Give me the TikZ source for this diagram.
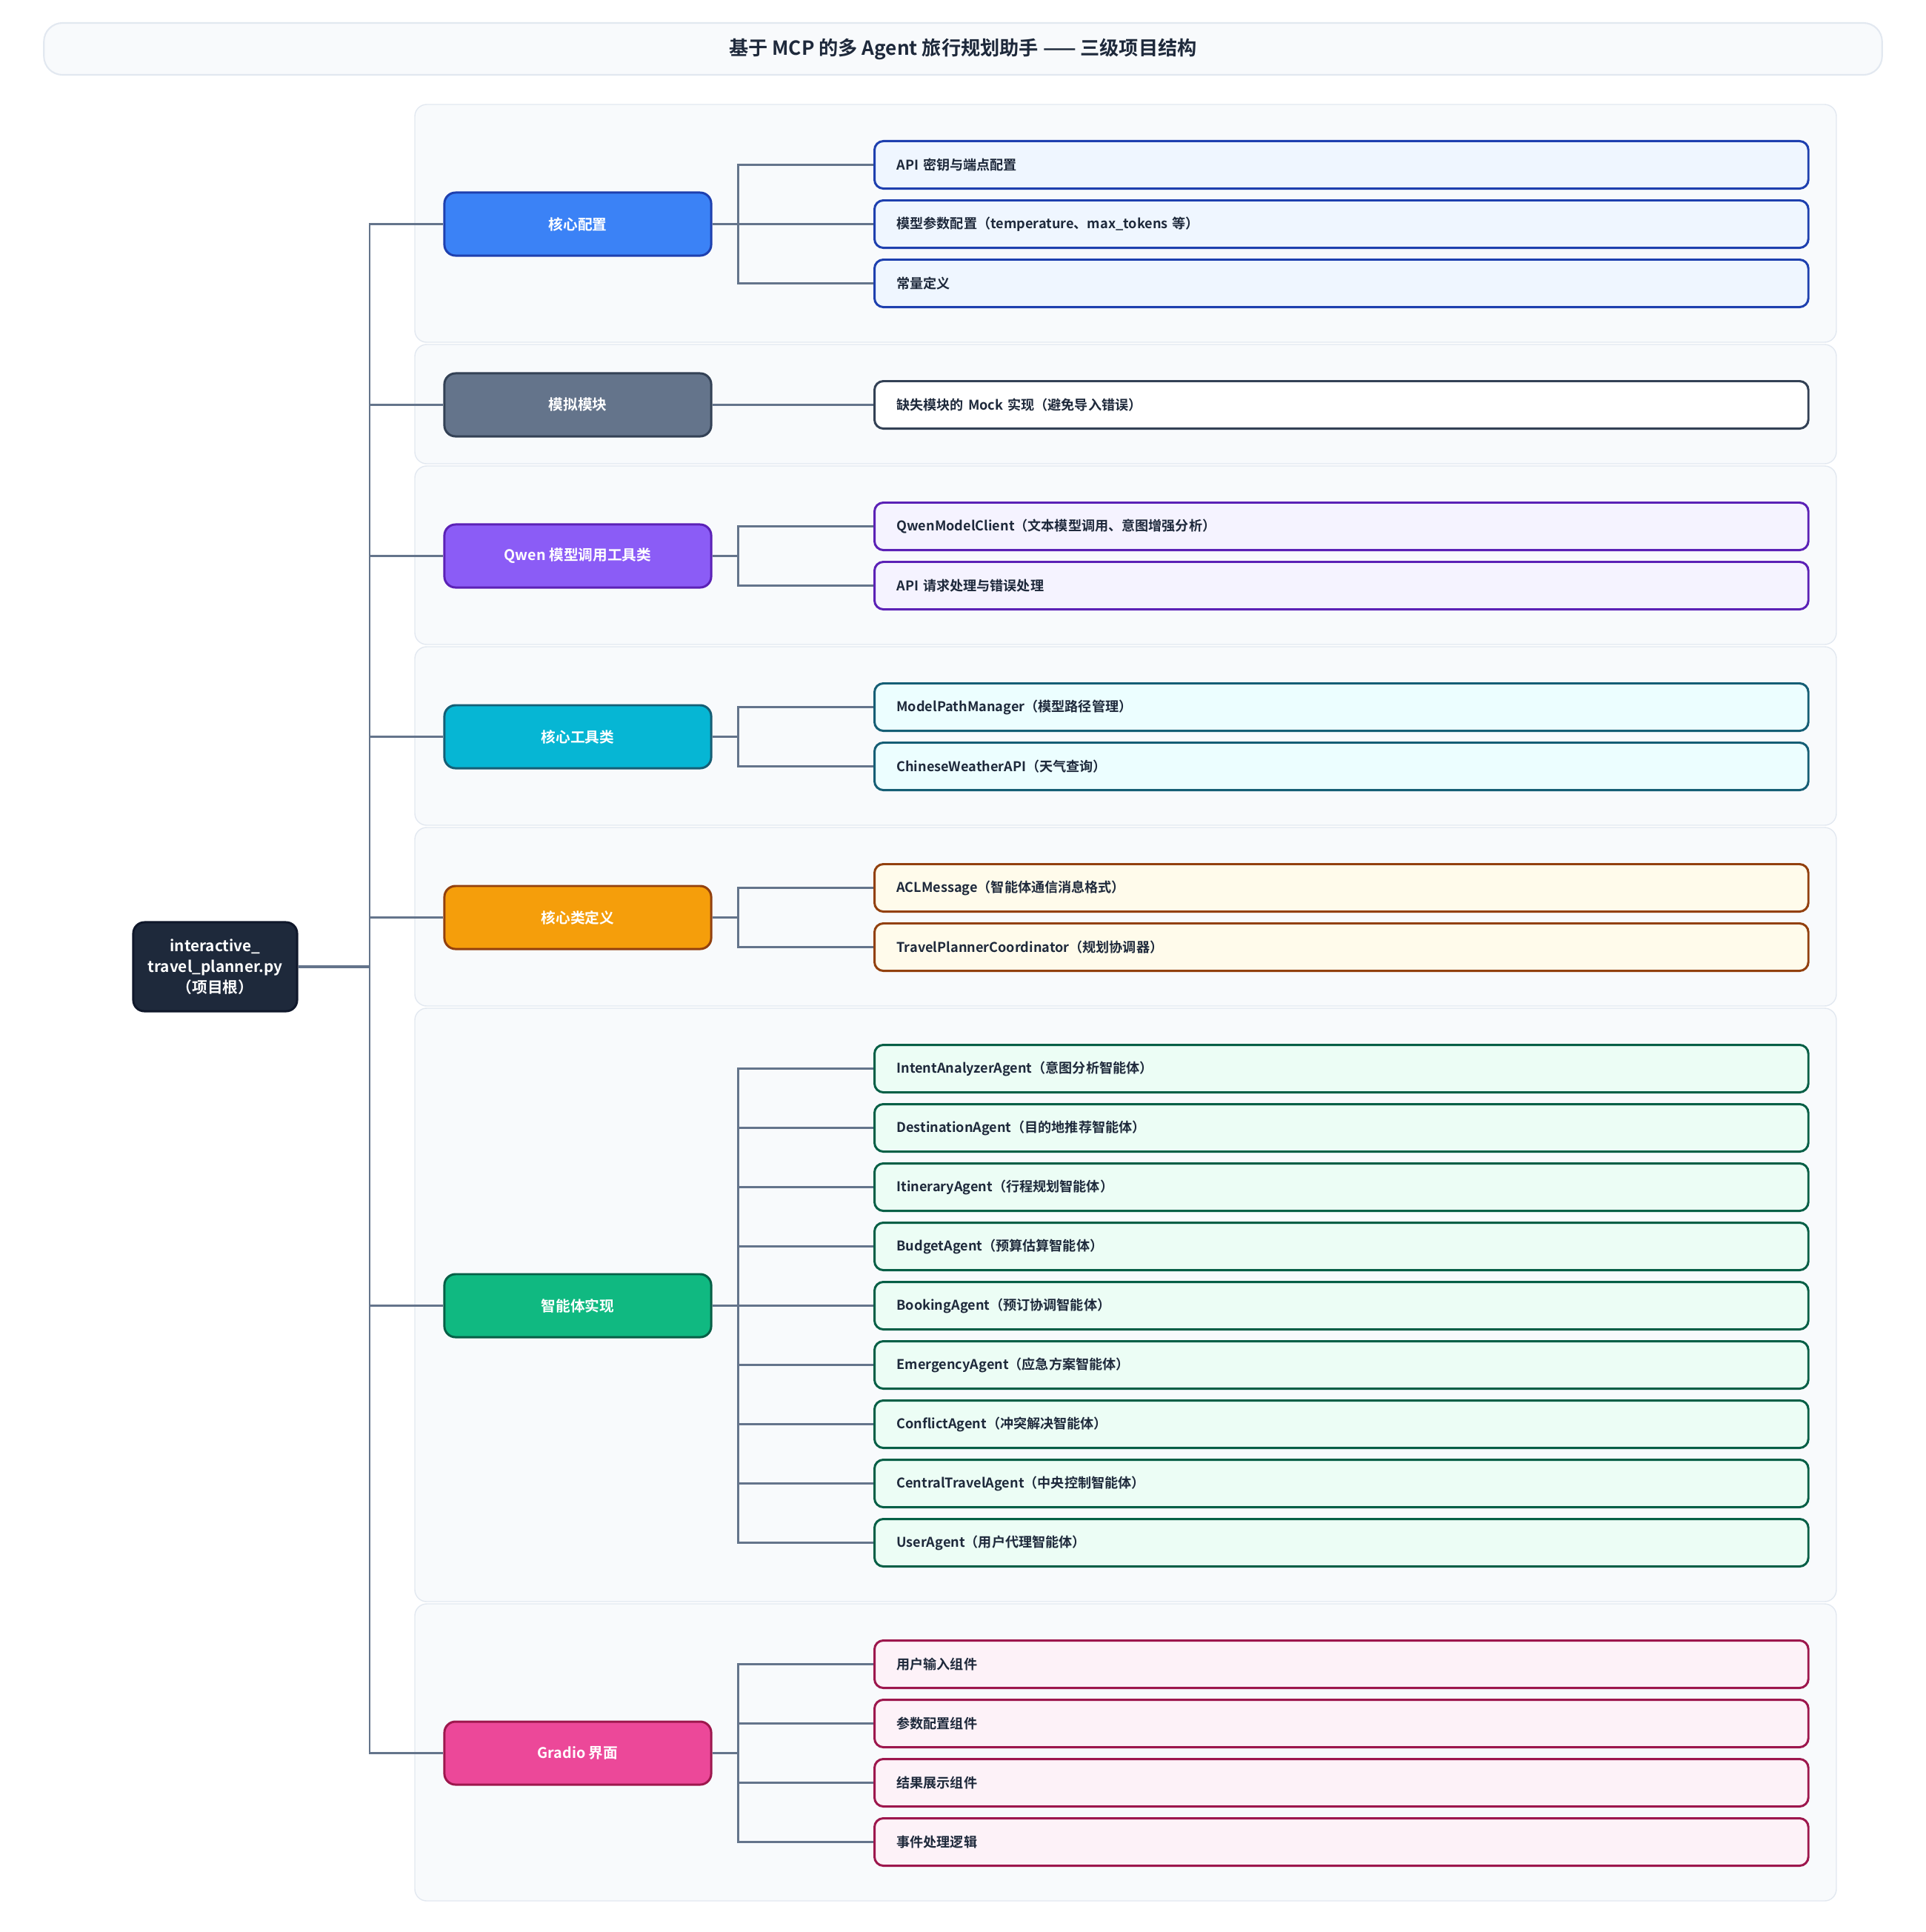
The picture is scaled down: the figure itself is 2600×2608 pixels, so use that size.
\documentclass[tikz,border=0pt]{standalone}
\usepackage{fontspec}
\setmainfont{Noto Sans CJK SC}[BoldFont=* Bold]
\usetikzlibrary{calc}
\definecolor{panelfill}{HTML}{F8FAFC}
\definecolor{panelline}{HTML}{E2E8F0}
\definecolor{connc}{HTML}{64748B}
\definecolor{txtdark}{HTML}{1E293B}
\definecolor{rootfill}{HTML}{1E293B}
\definecolor{rootline}{HTML}{0F172A}
\definecolor{bluef}{HTML}{3B82F6}\definecolor{bluel}{HTML}{1E40AF}\definecolor{bluep}{HTML}{EFF6FF}
\definecolor{grayf}{HTML}{64748B}\definecolor{grayl}{HTML}{334155}\definecolor{grayp}{HTML}{FFFFFF}
\definecolor{purf}{HTML}{8B5CF6}\definecolor{purl}{HTML}{5B21B6}\definecolor{purp}{HTML}{F5F3FF}
\definecolor{cyanf}{HTML}{06B6D4}\definecolor{cyanl}{HTML}{155E75}\definecolor{cyanp}{HTML}{ECFEFF}
\definecolor{ambf}{HTML}{F59E0B}\definecolor{ambl}{HTML}{92400E}\definecolor{ambp}{HTML}{FFFBEB}
\definecolor{grnf}{HTML}{10B981}\definecolor{grnl}{HTML}{065F46}\definecolor{grnp}{HTML}{ECFDF5}
\definecolor{pinkf}{HTML}{EC4899}\definecolor{pinkl}{HTML}{9D174D}\definecolor{pinkp}{HTML}{FDF2F8}
\tikzset{
  panel/.style={draw=panelline, fill=panelfill, line width=0.4pt, rounded corners=0.16cm},
  titlebox/.style={draw=panelline, fill=panelfill, line width=0.6pt, rounded corners=0.25cm,
    minimum width=24.8cm, minimum height=0.70cm, inner sep=0pt, text=txtdark,
    font=\bfseries\fontsize{7.45}{9}\selectfont},
  catnode/.style 2 args={draw=#2, fill=#1, line width=0.85pt, rounded corners=0.15cm,
    minimum width=3.6cm, minimum height=0.85cm, inner sep=0pt, text=white,
    font=\bfseries\fontsize{5.6}{7}\selectfont},
  leafnode/.style 2 args={draw=#2, fill=#1, line width=0.85pt, rounded corners=0.12cm,
    anchor=west, text width=12.0cm, inner xsep=0.3cm, inner ysep=0pt, minimum height=0.64cm,
    align=left, text=txtdark, font=\bfseries\fontsize{5.15}{6.5}\selectfont},
  rootnode/.style={draw=rootline, fill=rootfill, line width=0.85pt, rounded corners=0.15cm,
    minimum width=2.21cm, minimum height=1.2cm, inner sep=0pt, text=white, align=center,
    font=\bfseries\fontsize{5.9}{8}\selectfont},
  conn/.style={draw=connc, line width=0.85pt},
  rootconn/.style={draw=connc, line width=1.4pt},
}
\begin{document}
\begin{tikzpicture}[x=0.01cm,y=-0.01cm]
\useasboundingbox (0,0) rectangle (2600,2608);
% title
\node[titlebox] (title) at (1300,66) {基于 MCP 的多 Agent 旅行规划助手 —— 三级项目结构};
% panels
\draw[panel] (560,141) rectangle (2479,462);
\draw[panel] (560,465) rectangle (2479,626);
\draw[panel] (560,629) rectangle (2479,870);
\draw[panel] (560,873) rectangle (2479,1114);
\draw[panel] (560,1117) rectangle (2479,1358);
\draw[panel] (560,1361) rectangle (2479,2162);
\draw[panel] (560,2165) rectangle (2479,2566);
% root
\node[rootnode] (root) at (290.5,1305) {interactive\_\\travel\_planner.py\\（项目根）};
% categories
\node[catnode={bluef}{bluel}] (c1) at (780,302.5) {核心配置};
\node[catnode={grayf}{grayl}] (c2) at (780,546.5) {模拟模块};
\node[catnode={purf}{purl}] (c3) at (780,750.5) {Qwen 模型调用工具类};
\node[catnode={cyanf}{cyanl}] (c4) at (780,994.5) {核心工具类};
\node[catnode={ambf}{ambl}] (c5) at (780,1238.5) {核心类定义};
\node[catnode={grnf}{grnl}] (c6) at (780,1762.5) {智能体实现};
\node[catnode={pinkf}{pinkl}] (c7) at (780,2366.5) {Gradio 界面};
% leaves
\node[leafnode={bluep}{bluel}] (l11) at (1179,222.5) {API 密钥与端点配置};
\node[leafnode={bluep}{bluel}] (l12) at (1179,302.5) {模型参数配置（temperature、max\_tokens 等）};
\node[leafnode={bluep}{bluel}] (l13) at (1179,382.5) {常量定义};
\node[leafnode={grayp}{grayl}] (l21) at (1179,546.5) {缺失模块的 Mock 实现（避免导入错误）};
\node[leafnode={purp}{purl}] (l31) at (1179,710.5) {QwenModelClient（文本模型调用、意图增强分析）};
\node[leafnode={purp}{purl}] (l32) at (1179,790.5) {API 请求处理与错误处理};
\node[leafnode={cyanp}{cyanl}] (l41) at (1179,954.5) {ModelPathManager（模型路径管理）};
\node[leafnode={cyanp}{cyanl}] (l42) at (1179,1034.5) {ChineseWeatherAPI（天气查询）};
\node[leafnode={ambp}{ambl}] (l51) at (1179,1198.5) {ACLMessage（智能体通信消息格式）};
\node[leafnode={ambp}{ambl}] (l52) at (1179,1278.5) {TravelPlannerCoordinator（规划协调器）};
\node[leafnode={grnp}{grnl}] (l61) at (1179,1442.5) {IntentAnalyzerAgent（意图分析智能体）};
\node[leafnode={grnp}{grnl}] (l62) at (1179,1522.5) {DestinationAgent（目的地推荐智能体）};
\node[leafnode={grnp}{grnl}] (l63) at (1179,1602.5) {ItineraryAgent（行程规划智能体）};
\node[leafnode={grnp}{grnl}] (l64) at (1179,1682.5) {BudgetAgent（预算估算智能体）};
\node[leafnode={grnp}{grnl}] (l65) at (1179,1762.5) {BookingAgent（预订协调智能体）};
\node[leafnode={grnp}{grnl}] (l66) at (1179,1842.5) {EmergencyAgent（应急方案智能体）};
\node[leafnode={grnp}{grnl}] (l67) at (1179,1922.5) {ConflictAgent（冲突解决智能体）};
\node[leafnode={grnp}{grnl}] (l68) at (1179,2002.5) {CentralTravelAgent（中央控制智能体）};
\node[leafnode={grnp}{grnl}] (l69) at (1179,2082.5) {UserAgent（用户代理智能体）};
\node[leafnode={pinkp}{pinkl}] (l71) at (1179,2246.5) {用户输入组件};
\node[leafnode={pinkp}{pinkl}] (l72) at (1179,2326.5) {参数配置组件};
\node[leafnode={pinkp}{pinkl}] (l73) at (1179,2406.5) {结果展示组件};
\node[leafnode={pinkp}{pinkl}] (l74) at (1179,2486.5) {事件处理逻辑};
% trunk
\coordinate (trunk) at (499,1305);
\foreach \c in {c1,c2,c3,c4,c5,c6,c7} {
  \draw[conn] (trunk) |- (\c.west);
}
\draw[rootconn] (root.east) -- (trunk);
% branches
\foreach \c/\l in {c1/l11,c1/l12,c1/l13,c2/l21,c3/l31,c3/l32,c4/l41,c4/l42,c5/l51,c5/l52,
  c6/l61,c6/l62,c6/l63,c6/l64,c6/l65,c6/l66,c6/l67,c6/l68,c6/l69,c7/l71,c7/l72,c7/l73,c7/l74} {
  \draw[conn] (\c.east) -- ($(\c.east)+(35,0)$) |- (\l.west);
}
\end{tikzpicture}
\end{document}
